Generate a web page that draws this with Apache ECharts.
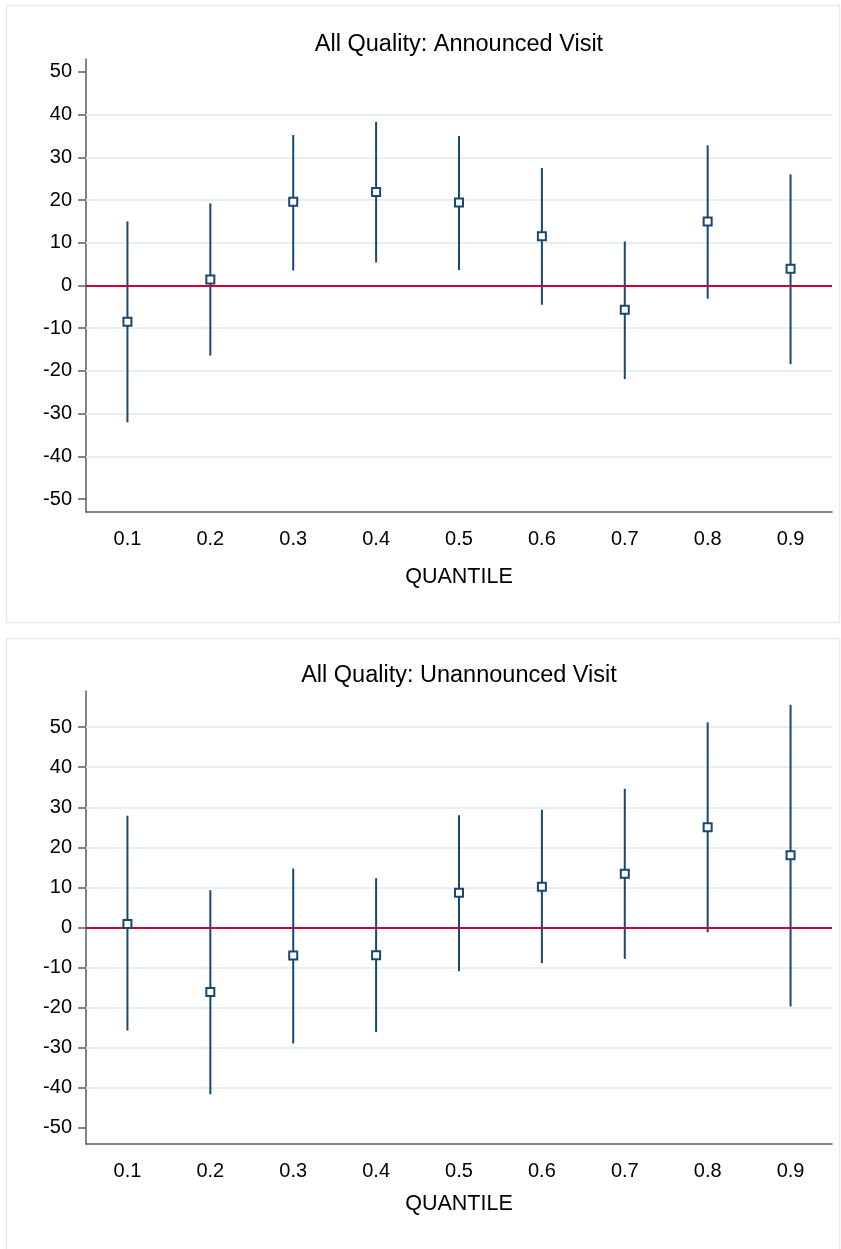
<!DOCTYPE html>
<html>
<head>
<meta charset="utf-8">
<title>All Quality quantile estimates</title>
<script src="https://cdn.jsdelivr.net/npm/echarts@6/dist/echarts.min.js"></script>
<style>
  html, body { margin: 0; padding: 0; background: #fff; }
  #chart { width: 841px; height: 1249px; }
</style>
</head>
<body>
<div id="chart"></div>
<script>
// quantile categories
const quantiles = ['0.1', '0.2', '0.3', '0.4', '0.5', '0.6', '0.7', '0.8', '0.9'];

// announced visit: point estimate and confidence band
const announcedEst = [-8.5, 1.4, 19.6, 21.9, 19.4, 11.5, -5.7, 15.0, 3.9];
const announcedLow = [-32.0, -16.4, 3.5, 5.4, 3.6, -4.5, -21.9, -3.1, -18.4];
const announcedHigh = [15.0, 19.2, 35.2, 38.3, 35.0, 27.5, 10.3, 32.8, 26.0];

// unannounced visit
const unannouncedEst = [0.9, -16.1, -7.0, -6.9, 8.7, 10.2, 13.4, 25.0, 18.0];
const unannouncedLow = [-25.7, -41.6, -28.9, -26.1, -10.9, -8.9, -7.8, -1.2, -19.7];
const unannouncedHigh = [27.9, 9.3, 14.7, 12.3, 28.0, 29.4, 34.6, 51.2, 55.6];

// y tick labels and gridlines
const yTicks = [-50, -40, -30, -20, -10, 0, 10, 20, 30, 40, 50];
const gridTop = [-40, -30, -20, -10, 10, 20, 30, 40];
const gridBottom = [-40, -30, -20, -10, 10, 20, 30, 40, 50];

const titles = ['All Quality: Announced Visit', 'All Quality: Unannounced Visit'];

const FONT = '"Liberation Sans", Arial, Helvetica, sans-serif';
const NAVY = '#1a476f';
const AXIS = '#5c5c5c';

const chart = echarts.init(document.getElementById('chart'), null, { renderer: 'canvas' });

function xAxisFor(gridIndex, nameGap) {
  return {
    type: 'category',
    gridIndex: gridIndex,
    data: quantiles,
    boundaryGap: true,
    name: 'QUANTILE',
    nameLocation: 'middle',
    nameGap: nameGap,
    nameTextStyle: { color: '#000', fontSize: 21.5, fontFamily: FONT },
    axisLine: { onZero: false, lineStyle: { color: AXIS, width: 1.5 } },
    axisTick: { alignWithLabel: true, length: 8, lineStyle: { color: AXIS, width: 1.5 } },
    axisLabel: { color: '#000', fontSize: 20, fontFamily: FONT, margin: 17 },
    splitLine: { show: false },
  };
}

function yAxisFor(gridIndex, min, max) {
  return {
    type: 'value',
    gridIndex: gridIndex,
    min: min,
    max: max,
    axisLine: { show: true, lineStyle: { color: AXIS, width: 1.5 } },
    axisTick: { show: true, length: 8, customValues: yTicks, lineStyle: { color: AXIS, width: 1.5 } },
    axisLabel: { color: '#000', fontSize: 20, fontFamily: FONT, margin: 14, customValues: yTicks },
    splitLine: { show: false },
  };
}

function errorBars(idx, low, high) {
  return {
    type: 'custom',
    xAxisIndex: idx,
    yAxisIndex: idx,
    z: 2,
    silent: true,
    data: quantiles.map((q, i) => [i, low[i], high[i]]),
    renderItem(params, api) {
      const lo = api.coord([api.value(0), api.value(1)]);
      const hi = api.coord([api.value(0), api.value(2)]);
      return {
        type: 'line',
        shape: { x1: lo[0], y1: lo[1], x2: hi[0], y2: hi[1] },
        style: { stroke: NAVY, lineWidth: 2 },
      };
    },
  };
}

// horizontal reference lines drawn through the y axis scale
function refLines(idx, values, color, z) {
  return {
    type: 'line',
    xAxisIndex: idx,
    yAxisIndex: idx,
    data: [],
    z: z,
    silent: true,
    markLine: {
      silent: true,
      z: z,
      symbol: 'none',
      label: { show: false },
      animation: false,
      lineStyle: { color: color, width: 2, type: 'solid' },
      data: values.map((v) => ({ yAxis: v })),
    },
  };
}

function points(idx, est) {
  return {
    type: 'scatter',
    xAxisIndex: idx,
    yAxisIndex: idx,
    z: 4,
    symbol: 'rect',
    symbolSize: 8,
    itemStyle: { color: '#fff', borderColor: NAVY, borderWidth: 2, opacity: 1 },
    data: est,
  };
}

chart.setOption({
  animation: false,
  textStyle: { fontFamily: FONT },
  graphic: [
    {
      type: 'rect',
      shape: { x: 6.5, y: 5.5, width: 833, height: 617 },
      style: { fill: 'none', stroke: '#e6edf0', lineWidth: 1.5 },
      silent: true,
    },
    {
      type: 'rect',
      shape: { x: 6.5, y: 638.5, width: 833, height: 620 },
      style: { fill: 'none', stroke: '#e6edf0', lineWidth: 1.5 },
      silent: true,
    },
    {
      type: 'text',
      x: 459,
      y: 45,
      style: {
        text: titles[0], fill: '#000', font: '23.5px ' + FONT,
        align: 'center', verticalAlign: 'middle',
        textAlign: 'center', textVerticalAlign: 'middle',
      },
    },
    {
      type: 'text',
      x: 459,
      y: 676,
      style: {
        text: titles[1], fill: '#000', font: '23.5px ' + FONT,
        align: 'center', verticalAlign: 'middle',
        textAlign: 'center', textVerticalAlign: 'middle',
      },
    },
  ],
  grid: [
    { left: 86, right: 9, top: 59, height: 453 },
    { left: 86, right: 9, top: 691, height: 453 },
  ],
  xAxis: [xAxisFor(0, 54), xAxisFor(1, 49)],
  yAxis: [yAxisFor(0, -53, 53), yAxisFor(1, -54, 59)],
  series: [
    refLines(0, gridTop, '#e8eff2', 1),
    errorBars(0, announcedLow, announcedHigh),
    refLines(0, [0], '#c4043a', 3),
    points(0, announcedEst),
    refLines(1, gridBottom, '#e8eff2', 1),
    errorBars(1, unannouncedLow, unannouncedHigh),
    refLines(1, [0], '#c4043a', 3),
    points(1, unannouncedEst),
  ],
});
</script>
</body>
</html>
